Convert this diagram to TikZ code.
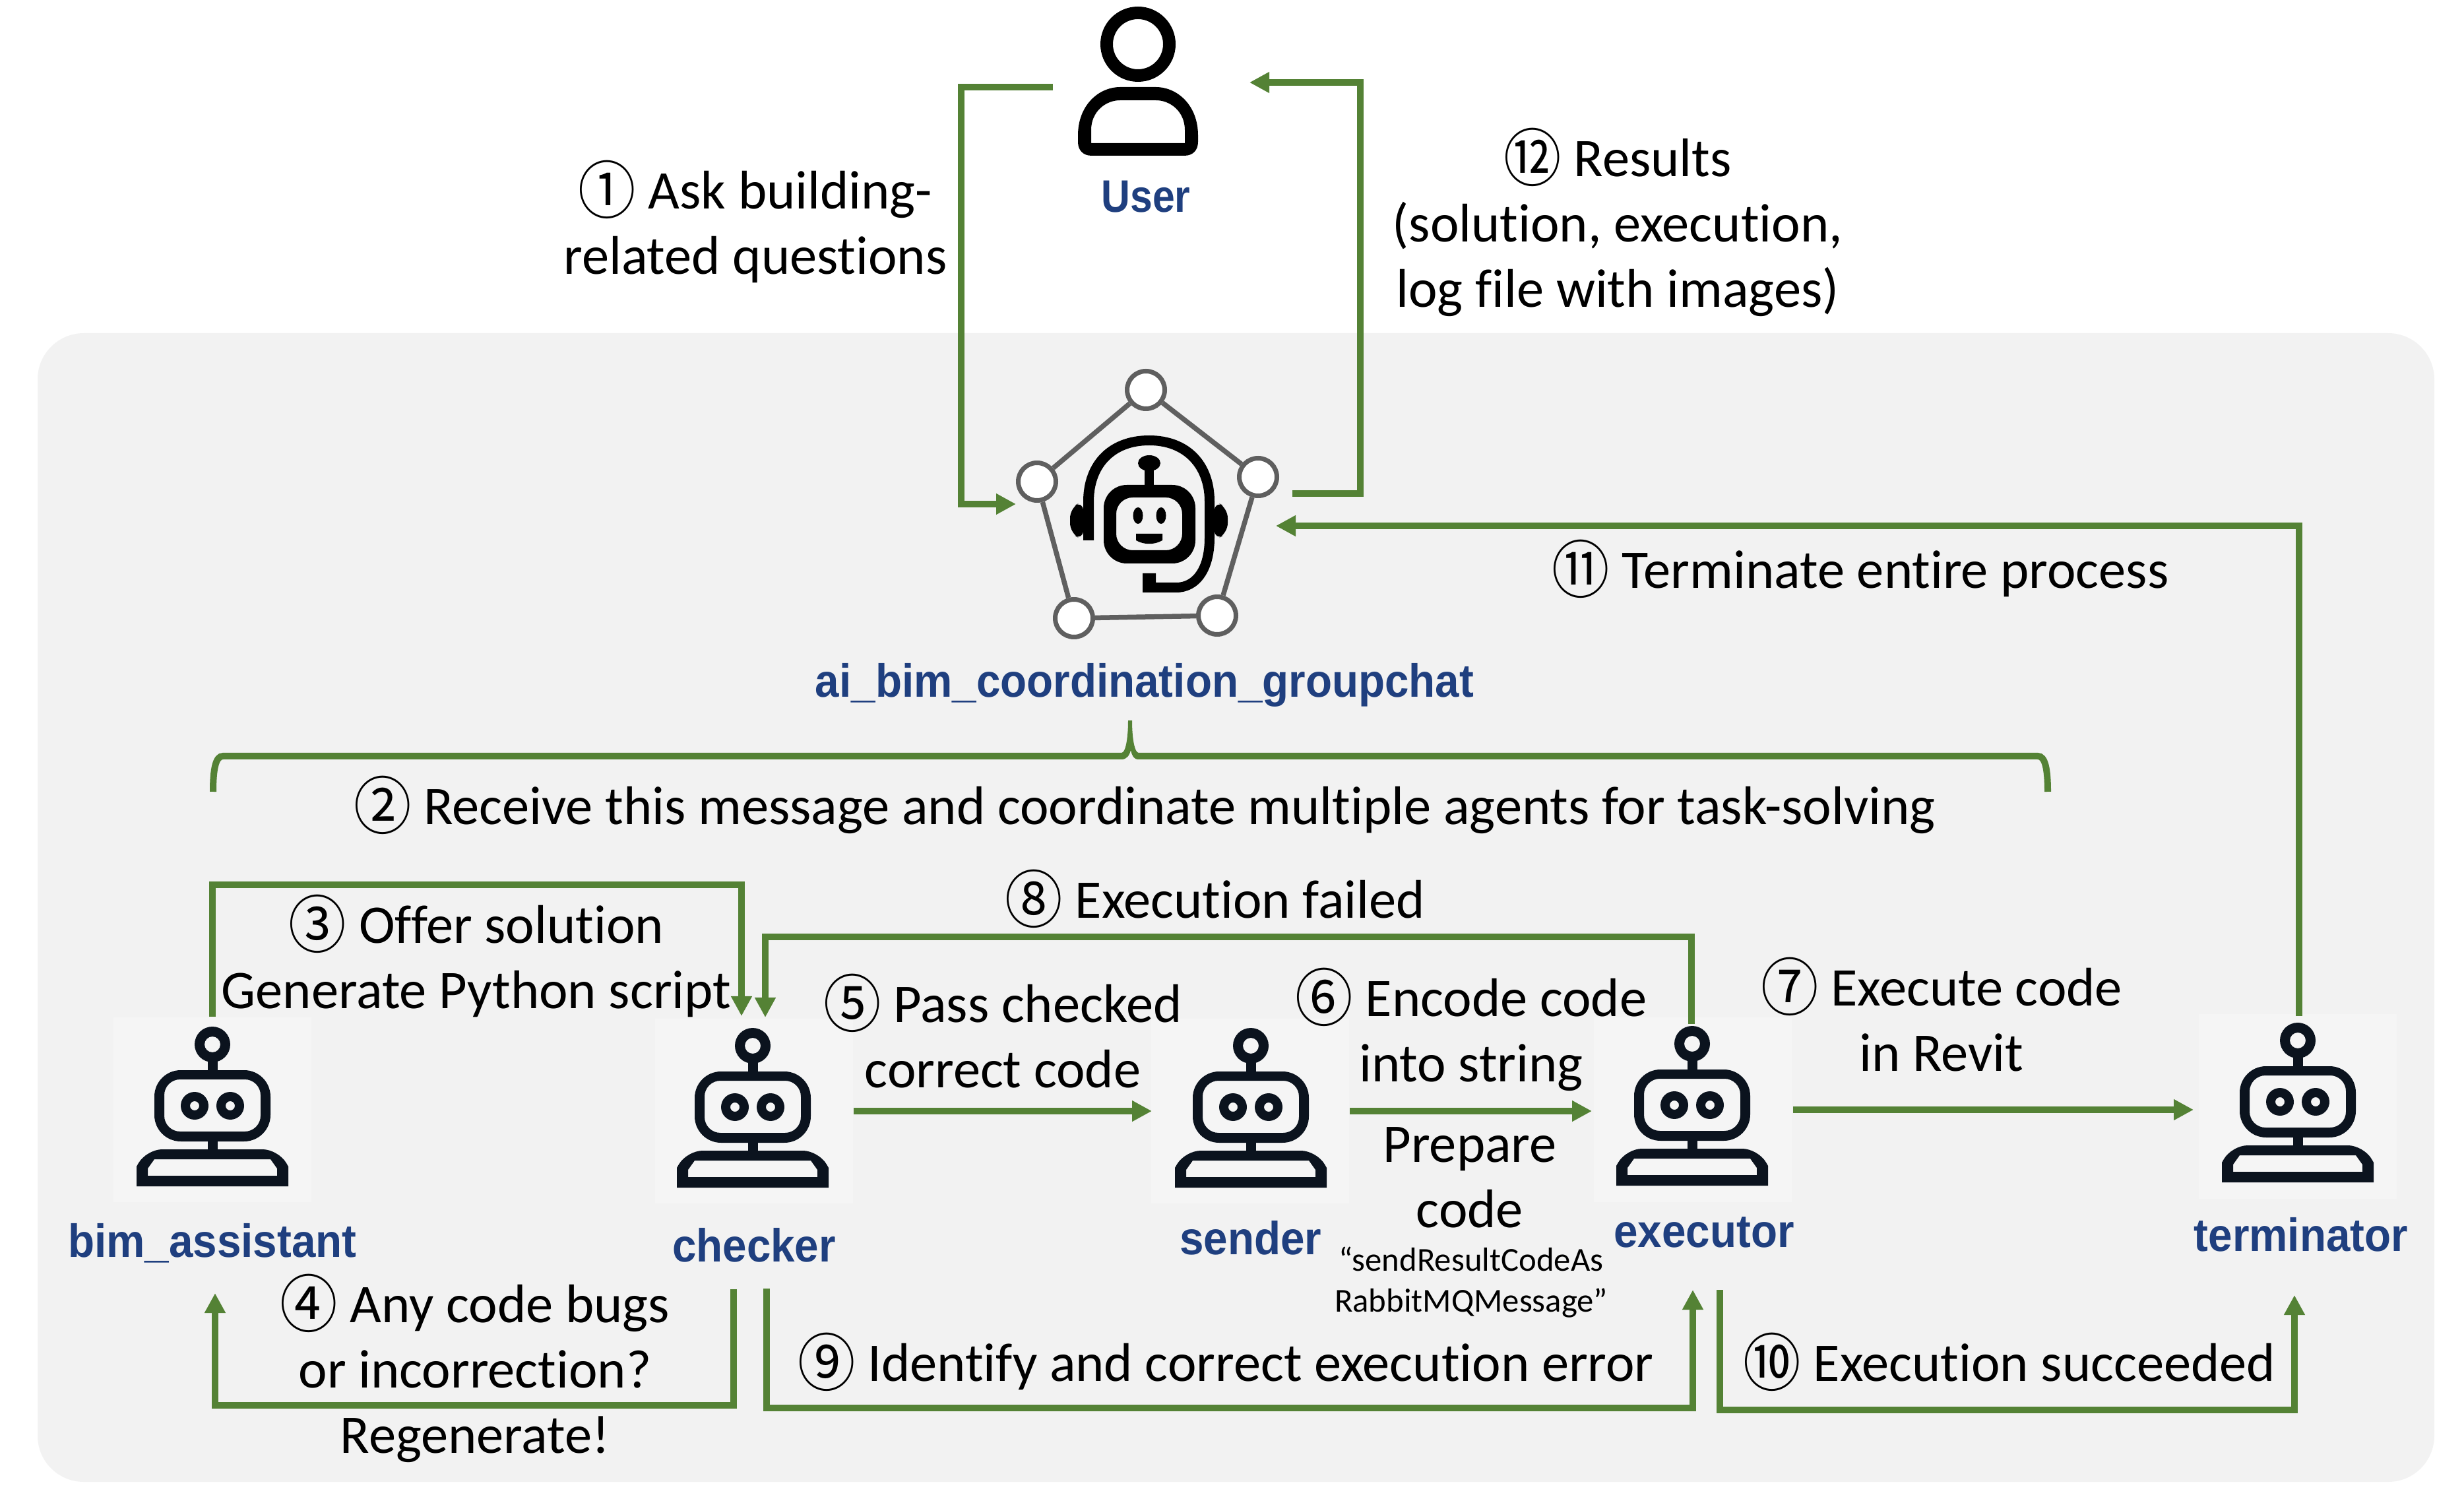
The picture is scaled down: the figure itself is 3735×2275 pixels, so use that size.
\documentclass[tikz,border=0pt]{standalone}
\usepackage{graphicx}
\usepackage{fontspec}
\usetikzlibrary{arrows.meta}
\setmainfont[Ligatures=NoCommon]{Carlito}
\newfontfamily\numfont{Noto Sans CJK SC}
\newfontfamily\namefont[FakeStretch=0.93]{Liberation Sans}
\newfontfamily\usernamefont[FakeStretch=0.88]{Liberation Sans}
\definecolor{flowgreen}{HTML}{548235}
\definecolor{namebl}{HTML}{1F3F7F}
\definecolor{panelg}{HTML}{F2F2F2}
\definecolor{tileg}{HTML}{F5F5F5}
\definecolor{botink}{HTML}{0B131E}
\definecolor{pentg}{HTML}{5F5F5F}
\newcommand{\cn}[1]{\smash{\raisebox{-1.4pt}{\scalebox{0.92}[1]{\numfont\fontsize{19}{19}\selectfont #1}}}}
\tikzset{
  flow/.style={draw=flowgreen,line width=2pt,-{Triangle[length=6pt,width=6pt]}},
  flowplain/.style={draw=flowgreen,line width=2pt},
  lbl/.style={font=\fontsize{16.5}{19.8}\selectfont,align=center,inner sep=0pt,text=black},
  small/.style={font=\fontsize{10.15}{12.4}\selectfont,align=center,inner sep=0pt,text=black},
  agentname/.style={font=\namefont\bfseries\fontsize{14.1}{16}\selectfont,text=namebl,inner sep=0pt},
  tile/.style={fill=tileg,draw=none,inner sep=0pt,minimum width=60pt,minimum height=56pt},
  vertexdot/.style={circle,draw=pentg,line width=1.4pt,fill=white,minimum size=11.4pt,inner sep=0pt},
  pics/botface/.style={code={
    % antenna
    \fill[botink,even odd rule] (0,0) circle (27) (0,0) circle (12);
    \fill[botink] (-7.5,25) rectangle (7.5,40);
    % head
    \fill[botink,even odd rule,rounded corners=40*0.2pt] (-88,39) rectangle (88,147)
       [rounded corners=24*0.2pt] (-73,53) rectangle (73,132);
    % eyes
    \fill[botink,even odd rule] (-27,93) circle (21) (-27,93) circle (7)
                                (27,93) circle (21) (27,93) circle (7);
    % neck
    \fill[botink] (-7.5,146) rectangle (7.5,160);
    % base
    \fill[botink,even odd rule] (-115,215) -- (-115,185) [rounded corners=24*0.2pt] -- (-100,159) -- (100,159) [sharp corners] -- (115,185) -- (115,215) -- cycle
       (-98,199) -- (-98,188) -- (-88,174) -- (88,174) -- (98,188) -- (98,199) -- cycle;
  }}
}
\begin{document}
\begin{tikzpicture}[x=0.2pt,y=-0.2pt]
\useasboundingbox (0,0) rectangle (3735,2275);
\fill[white] (0,0) rectangle (3735,2275);
\fill[panelg,rounded corners=14pt] (57,505) rectangle (3690,2246);

% ---- user icon
\fill[black,even odd rule] (1725,67) ellipse (57 and 57) (1725,67) ellipse (38 and 38);
\fill[black,even odd rule] (1634,205) .. controls (1634,160) and (1665,132) .. (1698,132) -- (1752,132) .. controls (1785,132) and (1816,160) .. (1816,205) -- (1816,215) .. controls (1816,228) and (1808,236) .. (1795,236) -- (1655,236) .. controls (1642,236) and (1634,228) .. (1634,215) -- cycle
  (1654,197) .. controls (1654,170) and (1675,152) .. (1698,152) -- (1752,152) .. controls (1775,152) and (1796,170) .. (1796,197) -- (1796,217) -- (1654,217) -- cycle;
\node[agentname,font=\usernamefont\bfseries\fontsize{13.8}{16}\selectfont] (username) at (1737,298) {User};

% ---- group chat icon
\node[vertexdot] (v1) at (1737,591) {};
\node[vertexdot] (v2) at (1907,723) {};
\node[vertexdot] (v3) at (1845,933) {};
\node[vertexdot] (v4) at (1628,937) {};
\node[vertexdot] (v5) at (1572,730) {};
\draw[pentg,line width=1.5pt] (v1)--(v2) (v2)--(v3) (v3)--(v4) (v4)--(v5) (v5)--(v1);
% headset
\fill[black] (1642,819) -- (1642,760) .. controls (1642,700) and (1680,660) .. (1742,660)
  .. controls (1803,660) and (1841,700) .. (1841,760) -- (1841,815)
  .. controls (1841,870) and (1815,898) .. (1783,898) -- (1732,898) -- (1732,869) -- (1752,869) -- (1752,883) -- (1783,883)
  .. controls (1808,883) and (1826,860) .. (1826,815) -- (1826,760)
  .. controls (1826,710) and (1795,675) .. (1742,675)
  .. controls (1688,675) and (1658,710) .. (1658,760) -- (1658,819) -- cycle;
\fill[black,rounded corners=3pt] (1642,759) -- (1622,770) -- (1622,808) -- (1642,819) -- cycle;
\fill[black,rounded corners=3pt] (1841,759) -- (1861,770) -- (1861,808) -- (1841,819) -- cycle;
\fill[black] (1742,702) ellipse (17 and 12);
\fill[black] (1735,705) rectangle (1749,737);
\fill[black,even odd rule,rounded corners=7pt] (1673,735) rectangle (1812,854)
   [rounded corners=5pt] (1692,754) rectangle (1792,834);
\fill[black] (1725,781.5) ellipse (7.5 and 12.5) (1760,781.5) ellipse (7.5 and 12.5);
\fill[black] (1722,809) -- (1762,809) -- (1762,819) .. controls (1750,826) and (1734,826) .. (1722,819) -- cycle;
\node[agentname] (group) at (1735,1038) {ai\_bim\_coordination\_groupchat};

% ---- agents
\node[tile] (bim) at (322,1682) {};
\pic at (322,1583) {botface};
\node[agentname] (bimname) at (322,1884) {bim\_assistant};
\node[tile] (checker) at (1143,1684) {};
\pic at (1141,1585) {botface};
\node[agentname] (checkername) at (1143,1887) {checker};
\node[tile] (sender) at (1895,1684) {};
\pic at (1896,1585) {botface};
\node[agentname] (sendername) at (1896,1876) {sender};
\node[tile] (executor) at (2566,1682) {};
\pic at (2565,1582) {botface};
\node[agentname] (executorname) at (2583,1868) {executor};
\node[tile] (terminator) at (3483,1677) {};
\pic at (3483,1577) {botface};
\node[agentname] (terminatorname) at (3488,1871) {terminator};

% ---- free ends
\coordinate (u1) at (1596,132);
\coordinate (u12) at (1894,125);
\coordinate (g1) at (1540,764);
\coordinate (g12) at (1959,748);
\coordinate (g11) at (1934,797);
\coordinate (c3) at (1124,1540);
\coordinate (c8) at (1160,1542);
\coordinate (t11) at (3485,1540);
\coordinate (e8) at (2564,1552);
\coordinate (c5) at (1294,1684);
\coordinate (s5) at (1746,1684);
\coordinate (s6) at (2046,1684);
\coordinate (e6) at (2413,1684);
\coordinate (e7) at (2718,1682);
\coordinate (t7) at (3325,1682);
\coordinate (c4) at (1112,1954);
\coordinate (b4) at (326,1960);
\coordinate (c9) at (1162,1953);
\coordinate (e9) at (2566,1955);
\coordinate (e10) at (2607,1955);
\coordinate (t10) at (3478,1963);

% ---- connectors
\draw[flow] (u1) -- (1457,132) -- (1457,764) -- (g1);
\draw[flow] (g12) -- (2062,748) -- (2062,125) -- (u12);
\draw[flow] (t11) -- (3485,797) -- (g11);
\draw[flow] (bim.north) -- (322,1341) -- (1124,1341) -- (c3);
\draw[flow] (e8) -- (2564,1420) -- (1160,1420) -- (c8);
\draw[flow] (c5) -- (s5);
\draw[flow] (s6) -- (e6);
\draw[flow] (e7) -- (t7);
\draw[flow] (c4) -- (1112,2130) -- (326,2130) -- (b4);
\draw[flow] (c9) -- (1162,2134) -- (2566,2134) -- (e9);
\draw[flow] (e10) -- (2607,2137) -- (3478,2137) -- (t10);
% brace
\coordinate (brL) at (323,1200);
\coordinate (brR) at (3104,1200);
\coordinate (brT) at (1713,1092);
\draw[flowplain] (1700,1146) -- (338,1146) .. controls (327,1146) and (323,1165) .. (brL);
\draw[flowplain] (1726,1146) -- (3089,1146) .. controls (3100,1146) and (3104,1165) .. (brR);
\fill[flowgreen] (1700,1141) .. controls (1706,1141) and (1710,1120) .. (1710,1092) -- (1716,1092) .. controls (1716,1120) and (1720,1141) .. (1726,1141) -- (1726,1151) .. controls (1718,1151) and (1716,1145) .. (1714,1137) .. controls (1712,1145) and (1708,1151) .. (1700,1151) -- cycle;

% ---- labels
\node[lbl] at (1145,344) {\cn{①} Ask building-\\related questions};
\node[lbl] at (2452,345) {\cn{⑫} Results\\(solution, execution,\\log file with images)};
\node[lbl] at (2820,870) {\cn{⑪} Terminate entire process};
\node[lbl] at (1735,1228) {\cn{②} Receive this message and coordinate multiple agents for task-solving};
\node[lbl] at (722,1457) {\cn{③} Offer solution\\Generate Python script};
\node[lbl] at (1842,1363) {\cn{⑧} Execution failed};
\node[lbl] at (1520,1571) {\cn{⑤} Pass checked\\correct code};
\node[lbl] at (2230,1568) {\cn{⑥} Encode code\\into string};
\node[lbl] at (2228,1785) {Prepare\\code};
\node[small] at (2230,1944) {“sendResultCodeAs\\RabbitMQMessage”};
\node[lbl] at (2943,1546) {\cn{⑦} Execute code\\in Revit};
\node[lbl] at (720,2082) {\cn{④} Any code bugs\\or incorrection?\\Regenerate!};
\node[lbl] at (1858,2071) {\cn{⑨} Identify and correct execution error};
\node[lbl] at (3046,2065) {\cn{⑩} Execution succeeded};
\end{tikzpicture}
\end{document}
